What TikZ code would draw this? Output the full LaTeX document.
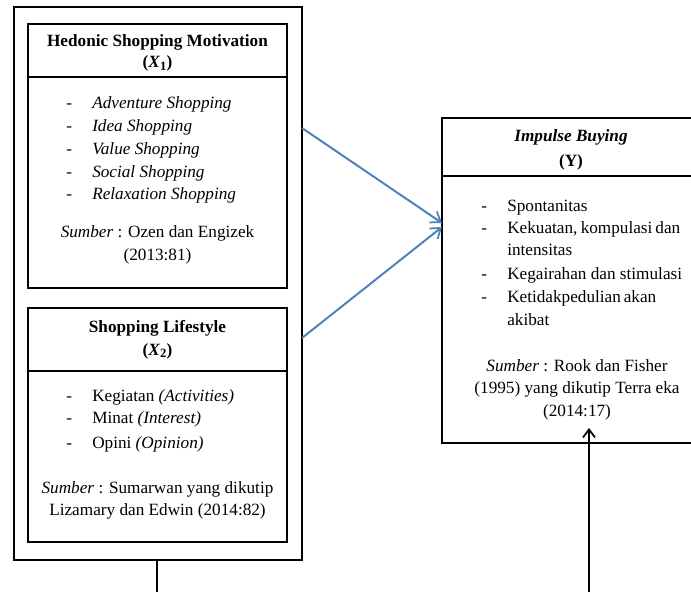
\documentclass[tikz,border=0pt]{standalone}
\usepackage{fontspec}
\setmainfont{Liberation Serif}
\usetikzlibrary{arrows.meta}
\definecolor{arrowblue}{HTML}{4F81BD}
\newcommand{\subnum}[1]{\raisebox{-0.35ex}{\fontsize{9.5}{9.5}\selectfont\textbf{#1}}}
\begin{document}
\begin{tikzpicture}[x=0.75pt,y=-0.75pt,
  box/.style={draw=black,line width=1.5pt,minimum width=#1,inner sep=0pt,outer sep=0pt},
  txt/.style={inner sep=0pt,anchor=base west,font=\fontsize{12.9}{15}\selectfont},
  ctxt/.style={inner sep=0pt,anchor=base,font=\fontsize{12.9}{15}\selectfont},
  bluearrow/.style={draw=arrowblue,line width=1.5pt,-{Straight Barb[length=7pt,width=10pt,line width=1.3pt]}},
  blackarrow/.style={draw=black,line width=1.5pt,-{Straight Barb[length=6pt,width=9pt,line width=1.3pt]}},
  plainline/.style={draw=black,line width=1.5pt}]
\useasboundingbox (0,0) rectangle (691,592);
% boxes
\node[box=216pt,minimum height=414.75pt] (outer) at (158,283.5) {};
\node[box=194.25pt,minimum height=198pt] (box1) at (157.5,156) {};
\node[box=194.25pt,minimum height=175.5pt] (box2) at (157.5,425) {};
\node[box=208.5pt,minimum height=243.75pt] (ybox) at (581,280.5) {};
\draw[plainline] (box1.west |- 0,77) -- (box1.east |- 0,77);
\draw[plainline] (box2.west |- 0,371) -- (box2.east |- 0,371);
\draw[plainline] (ybox.west |- 0,176) -- (ybox.east |- 0,176);
% box 1 text
\node[ctxt] (t1a) at (157.5,47) {\textbf{Hedonic Shopping Motivation}};
\node[ctxt] (t1b) at (157.5,68) {\textbf{(\textit{X}\subnum{1})}};
\node[txt] (d1a) at (66,108) {-};
\node[txt] (d1b) at (66,131) {-};
\node[txt] (d1c) at (66,154) {-};
\node[txt] (d1d) at (66,177) {-};
\node[txt] (d1e) at (66,199) {-};
\node[txt] (i1a) at (92,108) {\textit{Adventure Shopping}};
\node[txt] (i1b) at (92,131) {\textit{Idea Shopping}};
\node[txt] (i1c) at (92,154) {\textit{Value Shopping}};
\node[txt] (i1d) at (92,177) {\textit{Social Shopping}};
\node[txt] (i1e) at (92,199) {\textit{Relaxation Shopping}};
\node[ctxt] (s1a) at (157.5,237) {\textit{Sumber} : Ozen dan Engizek};
\node[ctxt] (s1b) at (157.5,260) {(2013:81)};
% box 2 text
\node[ctxt] (t2a) at (157.5,332) {\textbf{Shopping Lifestyle}};
\node[ctxt] (t2b) at (157.5,355) {\textbf{(\textit{X}\subnum{2})}};
\node[txt] (d2a) at (66,401) {-};
\node[txt] (d2b) at (66,423) {-};
\node[txt] (d2c) at (66,448) {-};
\node[txt] (i2a) at (92,401) {Kegiatan \textit{(Activities)}};
\node[txt] (i2b) at (92,423) {Minat \textit{(Interest)}};
\node[txt] (i2c) at (92,448) {Opini \textit{(Opinion)}};
\node[ctxt] (s2a) at (157.5,493) {\textit{Sumber} : Sumarwan yang dikutip};
\node[ctxt] (s2b) at (157.5,515) {Lizamary dan Edwin (2014:82)};
% Y box text
\node[ctxt] (tya) at (571,141) {\textbf{\textit{Impulse Buying}}};
\node[ctxt] (tyb) at (571,166) {\textbf{(Y)}};
\node[txt] (dya) at (481,211) {-};
\node[txt] (dyb) at (481,233) {-};
\node[txt] (dyc) at (481,279) {-};
\node[txt] (dyd) at (481,302) {-};
\node[txt] (iya) at (507,211) {Spontanitas};
\node[txt] (iyb) at (507,233) {\makebox[129.75pt][s]{Kekuatan, kompulasi dan}};
\node[txt] (iyb2) at (507,255) {intensitas};
\node[txt] (iyc) at (507,279) {Kegairahan dan stimulasi};
\node[txt] (iyd) at (507,302) {\makebox[111.75pt][s]{Ketidakpedulian akan}};
\node[txt] (iyd2) at (507,325) {akibat};
\node[ctxt] (sya) at (577,371) {\textit{Sumber} : Rook dan Fisher};
\node[ctxt] (syb) at (577,393) {(1995) yang dikutip Terra eka};
\node[ctxt] (syc) at (577,416) {(2014:17)};
% connectors
\draw[bluearrow] (outer.east |- 0,128) -- (ybox.west |- 0,223);
\draw[bluearrow] (outer.east |- 0,338) -- (ybox.west |- 0,227);
\coordinate (bl) at (157,592);
\draw[plainline] (outer.south -| bl) -- (bl);
\coordinate (br) at (589,592);
\coordinate (tr) at (589,428);
\draw[blackarrow] (br) -- (tr);
\end{tikzpicture}
\end{document}
